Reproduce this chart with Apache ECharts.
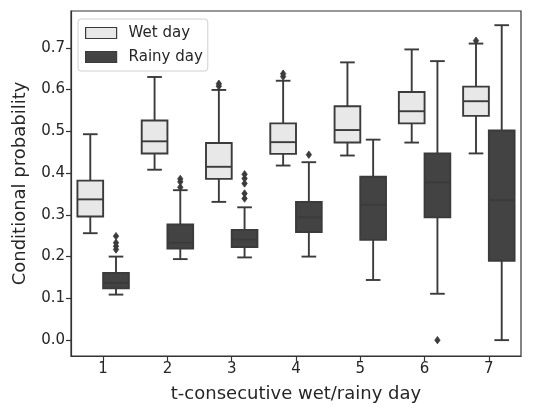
<!DOCTYPE html>
<html><head><meta charset="utf-8">
<script src="https://cdn.jsdelivr.net/npm/echarts@6/dist/echarts.min.js"></script>
<style>html,body{margin:0;padding:0;background:#fff}#c{width:546px;height:408px}</style>
</head><body><div id="c"></div>
<script>
// categories
const categories = ['1','2','3','4','5','6','7'];
const yTicks = [0, 0.1, 0.2, 0.3, 0.4, 0.5, 0.6, 0.7];
// box stats: [low whisker, Q1, median, Q3, high whisker]
const wetStats = [
  [0.256, 0.296, 0.337, 0.382, 0.493],
  [0.408, 0.447, 0.476, 0.526, 0.630],
  [0.331, 0.386, 0.415, 0.472, 0.599],
  [0.418, 0.446, 0.474, 0.519, 0.621],
  [0.442, 0.473, 0.503, 0.560, 0.665],
  [0.473, 0.519, 0.548, 0.594, 0.696],
  [0.447, 0.537, 0.572, 0.607, 0.710]
];
const rainyStats = [
  [0.109, 0.124, 0.137, 0.161, 0.200],
  [0.194, 0.219, 0.233, 0.277, 0.359],
  [0.198, 0.223, 0.241, 0.264, 0.318],
  [0.200, 0.259, 0.294, 0.331, 0.426],
  [0.144, 0.240, 0.324, 0.391, 0.480],
  [0.111, 0.294, 0.378, 0.447, 0.668],
  [0.000, 0.190, 0.335, 0.502, 0.754]
];
// outliers: [category index, value]
const wetOutliers = [
  [2, 0.608], [2, 0.614],
  [3, 0.631], [3, 0.638],
  [6, 0.717]
];
const rainyOutliers = [
  [0, 0.217], [0, 0.225], [0, 0.233], [0, 0.249],
  [1, 0.366], [1, 0.379], [1, 0.386],
  [2, 0.339], [2, 0.351], [2, 0.375], [2, 0.387], [2, 0.397],
  [3, 0.444],
  [5, 0.000]
];

const LINE = '#3b3b3b';
const WET = '#e8e8e8';
const RAINY = '#434343';
const TEXT = '#262626';

function boxRender(offset, fill) {
  return function (params, api) {
    const cat = api.value(0);
    const bw = api.size([1, 0])[0];
    const xc = api.coord([cat, 0])[0] + offset * bw;
    const w = 0.4 * bw;
    const cap = w * 0.57;
    const y = k => api.coord([cat, api.value(k)])[1];
    const yLo = y(1), yQ1 = y(2), yMed = y(3), yQ3 = y(4), yHi = y(5);
    const ls = {stroke: LINE, lineWidth: 1.9};
    return {
      type: 'group',
      children: [
        {type: 'line', shape: {x1: xc, y1: yQ3, x2: xc, y2: yHi}, style: ls},
        {type: 'line', shape: {x1: xc, y1: yQ1, x2: xc, y2: yLo}, style: ls},
        {type: 'line', shape: {x1: xc - cap / 2, y1: yHi, x2: xc + cap / 2, y2: yHi}, style: ls},
        {type: 'line', shape: {x1: xc - cap / 2, y1: yLo, x2: xc + cap / 2, y2: yLo}, style: ls},
        {type: 'rect', shape: {x: xc - w / 2, y: yQ3, width: w, height: yQ1 - yQ3},
          style: {fill: fill, stroke: LINE, lineWidth: 1.9}},
        {type: 'line', shape: {x1: xc - w / 2, y1: yMed, x2: xc + w / 2, y2: yMed}, style: ls}
      ]
    };
  };
}
function outlierRender(offset) {
  return function (params, api) {
    const cat = api.value(0);
    const bw = api.size([1, 0])[0];
    const p = api.coord([cat, api.value(1)]);
    const x = p[0] + offset * bw, yy = p[1];
    return {
      type: 'polygon',
      shape: {points: [[x, yy - 3.7], [x + 2.7, yy], [x, yy + 3.7], [x - 2.7, yy]]},
      style: {fill: LINE, stroke: LINE, lineWidth: 0.8}
    };
  };
}

const chart = echarts.init(document.getElementById('c'), null, {renderer: 'canvas'});
chart.setOption({
  backgroundColor: '#fff',
  animation: false,
  textStyle: {fontFamily: 'DejaVu Sans'},
  grid: {left: 71, right: 25, top: 11, bottom: 49, show: true, borderColor: '#333', borderWidth: 1.2, backgroundColor: 'transparent'},
  legend: {
    orient: 'vertical', left: 78, top: 19,
    padding: [6, 5, 6, 7], itemGap: 8,
    itemWidth: 31, itemHeight: 11,
    backgroundColor: 'rgba(255,255,255,0.85)', borderColor: '#d0d0d0', borderWidth: 1, borderRadius: 3,
    textStyle: {fontSize: 15, color: TEXT, fontFamily: 'DejaVu Sans', padding: [0, 0, 0, 7], lineHeight: 16},
    data: [
      {name: 'Wet day', icon: 'rect', itemStyle: {color: WET, borderColor: LINE, borderWidth: 1.2}},
      {name: 'Rainy day', icon: 'rect', itemStyle: {color: RAINY, borderColor: LINE, borderWidth: 1.2}}
    ]
  },
  xAxis: {
    type: 'category', data: categories, boundaryGap: true,
    name: 't-consecutive wet/rainy day', nameLocation: 'middle', nameGap: 29,
    nameTextStyle: {fontSize: 18, color: TEXT, fontFamily: 'DejaVu Sans'},
    axisLine: {show: true, onZero: false, lineStyle: {color: '#333', width: 1.2}},
    axisTick: {show: true, alignWithLabel: true, length: 5, lineStyle: {color: '#333', width: 1.2}},
    axisLabel: {fontSize: 15, color: TEXT, margin: 6},
    splitLine: {show: false}
  },
  yAxis: {
    type: 'value', min: -0.038, max: 0.788,
    name: 'Conditional probability', nameLocation: 'middle', nameGap: 42,
    nameTextStyle: {fontSize: 18, color: TEXT, fontFamily: 'DejaVu Sans'},
    axisLine: {show: true, onZero: false, lineStyle: {color: '#333', width: 1.2}},
    axisTick: {show: true, length: 5, customValues: yTicks, lineStyle: {color: '#333', width: 1.2}},
    axisLabel: {fontSize: 15, color: TEXT, margin: 6, customValues: yTicks, formatter: v => v.toFixed(1)},
    splitLine: {show: false}
  },
  series: [
    {name: 'Wet day', type: 'custom', renderItem: boxRender(-0.2, WET), itemStyle: {color: WET},
      encode: {x: 0, y: [1, 2, 3, 4, 5]}, data: wetStats.map((s, i) => [i].concat(s)), z: 3},
    {name: 'Rainy day', type: 'custom', renderItem: boxRender(0.2, RAINY), itemStyle: {color: RAINY},
      encode: {x: 0, y: [1, 2, 3, 4, 5]}, data: rainyStats.map((s, i) => [i].concat(s)), z: 3},
    {name: 'Wet outliers', type: 'custom', renderItem: outlierRender(-0.2),
      encode: {x: 0, y: 1}, data: wetOutliers, z: 4},
    {name: 'Rainy outliers', type: 'custom', renderItem: outlierRender(0.2),
      encode: {x: 0, y: 1}, data: rainyOutliers, z: 4}
  ]
});
</script></body></html>
